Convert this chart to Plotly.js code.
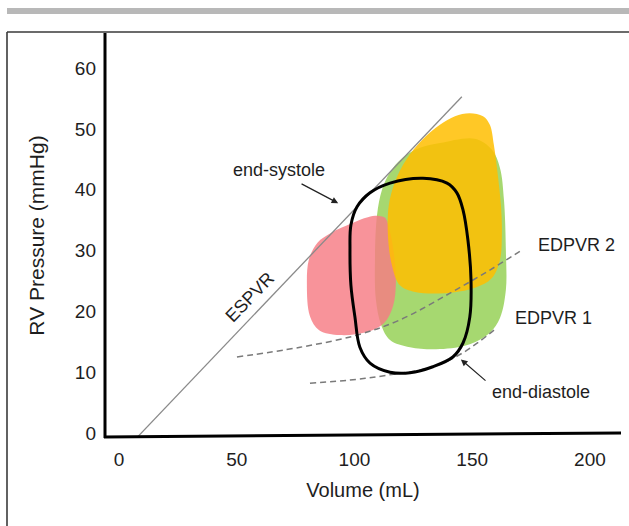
<!DOCTYPE html>
<html>
<head>
<meta charset="utf-8">
<script src="https://cdn.plot.ly/plotly-3.0.1.min.js"></script>
<style>html,body{margin:0;padding:0;background:#fff;}#chart{width:629px;height:526px;}</style>
</head>
<body>
<div id="chart"></div>
<script>
// ---- Data (Volume in mL, Pressure in mmHg) ----
const volTicks = [0, 50, 100, 150, 200];
const pressTicks = [0, 10, 20, 30, 40, 50, 60];

const espvrVol = [8.0, 145.6];
const espvrP   = [-0.6, 55.3];

const greenVol = [136.3, 151.2, 158.4, 161.8, 163.5, 164.3, 164.3, 161.8, 157.5, 149.0, 136.3, 123.6, 115.1, 111.3, 109.1, 108.7, 109.6, 111.7, 115.1, 120.2, 127.8];
const greenP   = [47.7, 48.4, 46.6, 43.6, 38.3, 30.1, 23.5, 18.9, 16.5, 14.6, 13.8, 14.1, 15.3, 17.8, 21.9, 28.5, 35.9, 40.0, 42.9, 45.2, 46.9];

const yellowVol = [142.7, 149.0, 154.6, 157.5, 159.2, 160.9, 162.2, 162.6, 161.8, 158.4, 151.2, 138.4, 125.7, 119.3, 115.9, 114.2, 114.6, 117.2, 121.9, 128.7, 136.3];
const yellowP   = [52.1, 52.6, 52.1, 50.7, 47.4, 42.4, 37.5, 32.6, 28.5, 25.5, 23.9, 23.0, 23.2, 24.3, 27.6, 32.6, 37.5, 41.3, 44.9, 48.2, 50.7];

const redVol = [110.4, 113.0, 115.1, 116.8, 117.6, 116.4, 112.6, 105.3, 93.8, 85.0, 81.1, 79.8, 80.7, 84.3, 90.0, 98.9, 105.7];
const redP   = [35.7, 35.4, 33.1, 29.3, 24.7, 20.9, 18.1, 16.6, 16.1, 16.9, 19.2, 24.5, 28.6, 31.3, 32.9, 34.5, 35.5];

const loopVol = [98.1, 98.5, 101.1, 106.6, 115.1, 129.1, 139.3, 143.5, 146.1, 148.2, 149.5, 149.0, 146.1, 141.8, 133.3, 123.6, 115.1, 106.6, 102.3, 100.2, 98.5];
const loopP   = [30.1, 34.2, 37.2, 39.5, 41.1, 41.9, 41.1, 39.5, 36.7, 31.7, 25.2, 19.1, 14.8, 12.5, 10.9, 9.9, 10.0, 11.5, 14.1, 19.1, 24.3];

const edpvr2Vol = [50.1, 76.9, 101.1, 119.3, 140.6, 157.5, 171.1];
const edpvr2P   = [12.5, 14.1, 16.1, 18.6, 23.0, 26.8, 30.1];

const edpvr1Vol = [81.1, 98.1, 113.8, 133.3, 146.1, 160.5];
const edpvr1P   = [8.2, 8.7, 9.5, 10.9, 13.2, 17.3];

// ---- helpers ----
function closed(a) { return a.concat([a[0]]); }
const FONT = 'Liberation Sans, Arial, sans-serif';
const TXT = '#1e1e1e';

// plot area in pixels: left 105, right 621, top 34, bottom 437
const PL = 105, PR = 621, PT = 34, PB = 437;
const fx = px => (px - PL) / (PR - PL);
const fy = py => (PB - py) / (PB - PT);

const traces = [
  { x: closed(greenVol), y: closed(greenP), mode: 'lines', fill: 'toself',
    fillcolor: 'rgba(146,208,80,0.82)', line: { width: 0, shape: 'spline', smoothing: 1 }, hoverinfo: 'skip' },
  { x: closed(redVol), y: closed(redP), mode: 'lines', fill: 'toself',
    fillcolor: 'rgba(247,123,132,0.82)', line: { width: 0, shape: 'spline', smoothing: 1 }, hoverinfo: 'skip' },
  { x: closed(yellowVol), y: closed(yellowP), mode: 'lines', fill: 'toself',
    fillcolor: 'rgba(255,190,0,0.85)', line: { width: 0, shape: 'spline', smoothing: 1 }, hoverinfo: 'skip' },
  { x: edpvr2Vol, y: edpvr2P, mode: 'lines',
    line: { color: '#7a7a7a', width: 1.5, dash: '6px,4px', shape: 'spline' }, hoverinfo: 'skip' },
  { x: edpvr1Vol, y: edpvr1P, mode: 'lines',
    line: { color: '#7a7a7a', width: 1.5, dash: '6px,4px', shape: 'spline' }, hoverinfo: 'skip' },
  { x: espvrVol, y: espvrP, mode: 'lines',
    line: { color: '#8a8a8a', width: 1.3 }, hoverinfo: 'skip' },
  { x: closed(loopVol), y: closed(loopP), mode: 'lines',
    line: { color: '#000', width: 3, shape: 'spline', smoothing: 1 }, hoverinfo: 'skip' }
];

const layout = {
  width: 629, height: 526,
  margin: { l: PL, r: 629 - PR, t: PT, b: 526 - PB },
  paper_bgcolor: '#fff', plot_bgcolor: 'rgba(0,0,0,0)',
  showlegend: false,
  font: { family: FONT, color: TXT, size: 18 },
  xaxis: {
    range: [-5.94, 213.2], tickvals: volTicks, ticktext: volTicks.map(String),
    showgrid: false, zeroline: false, showline: false, ticks: '',
    tickfont: { family: FONT, size: 19, color: TXT }, ticklabelstandoff: 9,
    title: { text: 'Volume (mL)', font: { family: FONT, size: 20, color: TXT }, standoff: 13 },
    fixedrange: true
  },
  yaxis: {
    range: [-0.658, 65.62], tickvals: pressTicks, ticktext: pressTicks.map(String),
    showgrid: false, zeroline: false, showline: false, ticks: '',
    tickfont: { family: FONT, size: 19, color: TXT }, ticklabelstandoff: 8,
    title: { text: 'RV Pressure (mmHg)', font: { family: FONT, size: 21, color: TXT }, standoff: 24 },
    fixedrange: true
  },
  shapes: [
    { type: 'rect', xref: 'paper', yref: 'paper', x0: fx(7), x1: fx(640), y0: fy(14), y1: fy(8),
      fillcolor: '#b8b8b8', line: { width: 0 }, layer: 'below' },
    { type: 'line', xref: 'paper', yref: 'paper', x0: fx(7), x1: fx(640), y0: fy(32), y1: fy(32),
      line: { color: '#3a3a3a', width: 1.6 } },
    { type: 'line', xref: 'paper', yref: 'paper', x0: fx(7), x1: fx(7), y0: fy(32), y1: fy(540),
      line: { color: '#3a3a3a', width: 1.6 } },
    { type: 'line', xref: 'paper', yref: 'paper', x0: fx(105), x1: fx(105), y0: fy(33), y1: fy(438),
      line: { color: '#000', width: 3 } },
    { type: 'line', xref: 'paper', yref: 'paper', x0: fx(104), x1: fx(621), y0: fy(437), y1: fy(433),
      line: { color: '#000', width: 3 } }
  ],
  annotations: [
    { x: 93.1, y: 37.8, ax: 76.9, ay: 41.1, xref: 'x', yref: 'y', axref: 'x', ayref: 'y',
      text: '', showarrow: true, arrowhead: 2, arrowsize: 1.1, arrowwidth: 1.2, arrowcolor: '#222' },
    { x: 145.2, y: 12.1, ax: 156.3, ay: 8.4, xref: 'x', yref: 'y', axref: 'x', ayref: 'y',
      text: '', showarrow: true, arrowhead: 2, arrowsize: 1.1, arrowwidth: 1.2, arrowcolor: '#222' },
    { x: 67.9, y: 43.3, xref: 'x', yref: 'y', text: 'end-systole', showarrow: false,
      font: { family: FONT, size: 18, color: TXT } },
    { x: 179.2, y: 6.7, xref: 'x', yref: 'y', text: 'end-diastole', showarrow: false,
      font: { family: FONT, size: 18, color: TXT } },
    { x: 194.5, y: 30.9, xref: 'x', yref: 'y', text: 'EDPVR 2', showarrow: false,
      font: { family: FONT, size: 18, color: TXT } },
    { x: 184.7, y: 18.9, xref: 'x', yref: 'y', text: 'EDPVR 1', showarrow: false,
      font: { family: FONT, size: 18, color: TXT } },
    { x: 55.6, y: 22.4, xref: 'x', yref: 'y', text: 'ESPVR', showarrow: false, textangle: -46,
      font: { family: FONT, size: 18, color: TXT } }
  ]
};

Plotly.newPlot('chart', traces, layout, { staticPlot: true, displayModeBar: false });
</script>
</body>
</html>
